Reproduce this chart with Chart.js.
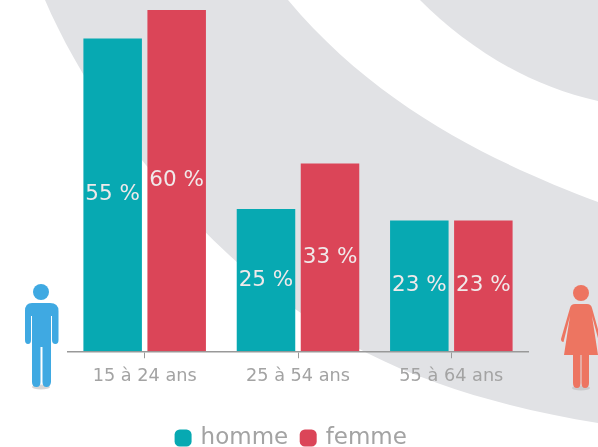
<!DOCTYPE html>
<html>
<head>
<meta charset="utf-8">
<script src="https://cdn.jsdelivr.net/npm/chart.js@4"></script>
<style>
html, body { margin: 0; padding: 0; background: #fff; overflow: hidden; }
#fond, #grafico { position: absolute; left: 0; top: 0; }
</style>
</head>
<body>
<!-- decor behind and beside the chart -->
<svg id="fond" width="598" height="447" viewBox="0 0 598 447">
    <path fill="#e1e2e5" d="M45 0 C90 105 205 270 367 353 C440 390 520 410 598 423 L598 202 C500 165 380 110 288 0 Z"/>
    <path fill="#e1e2e5" d="M420 0 C465 45 525 85 598 101 L598 0 Z"/>
    <ellipse cx="41" cy="387" rx="9" ry="2.5" fill="#bbb" opacity="0.6"/>
    <g fill="#3fa9e2">
        <circle cx="41" cy="292" r="8"/>
        <path d="M32 303 H50 Q58.500 303 58.500 311 V340 Q58.500 344 55.500 344 Q52 344 52 340 V316 H51 V382 Q50.500 387 46.500 387 Q42.500 387 42.500 382 V347 H40.500 V382 Q40.500 387 36.500 387 Q32 387 32 382 V316 H31 V340 Q31 344 28 344 Q25 344 25 340 V311 Q25 303 32 303 Z"/>
    </g>
    <ellipse cx="581" cy="388" rx="9" ry="2.5" fill="#bbb" opacity="0.6"/>
    <g fill="#ed7561">
        <circle cx="581" cy="293" r="8"/>
        <path d="M575 304 H587 Q591 304 592 308 L601 340 Q601 342 599 342 L592 316 L598 355 H589 V383 Q589 388 585 388 Q581.500 388 581.500 383 V355 H580.500 V383 Q580.500 388 577 388 Q573 388 573 383 V355 H564 L570 316 L563.500 342 Q561 342 561 339 L570 308 Q571 304 575 304 Z"/>
    </g>
</svg>
<canvas id="grafico" width="598" height="447"></canvas>
<script>
const categorias = ["15 à 24 ans", "25 à 54 ans", "55 à 64 ans"];
const hommes = [55, 25, 23];
const femmes = [60, 33, 23];
const nomHomme = "homme";
const nomFemme = "femme";

// writes "55 %" in the middle of each bar
const etiquettes = {
    id: "etiquettes",
    afterDatasetsDraw(chart) {
        const ctx = chart.ctx;
        ctx.save();
        ctx.font = "21.5px 'DejaVu Sans'";
        ctx.fillStyle = "#f0e9ea";
        ctx.textAlign = "center";
        ctx.textBaseline = "middle";
        chart.data.datasets.forEach((ds, i) => {
            chart.getDatasetMeta(i).data.forEach((barra, j) => {
                const centro = barra.getCenterPoint();
                ctx.fillText(ds.data[j] + " %", centro.x, centro.y);
            });
        });
        ctx.restore();
    }
};

// the legend sits a little left of the plot's centre
const leyendaIzquierda = {
    id: "leyendaIzquierda",
    afterLayout(chart) {
        chart.legend.left -= 6;
        chart.legend.right -= 6;
    }
};

new Chart(document.getElementById("grafico").getContext("2d"), {
    type: "bar",
    data: {
        labels: categorias,
        datasets: [
            { label: nomHomme, data: hommes, backgroundColor: "#07a9b2" },
            { label: nomFemme, data: femmes, backgroundColor: "#db4558" }
        ]
    },
    options: {
        responsive: false,
        animation: false,
        categoryPercentage: 0.835,
        barPercentage: 0.914,
        layout: { padding: { left: 68, right: 70, top: 10, bottom: -12.5 } },
        scales: {
            x: {
                grid: { offset: false, drawOnChartArea: false, color: "#999", tickLength: 7 },
                border: { color: "#999", width: 1.5 },
                ticks: { color: "#a3a3a3", font: { family: "DejaVu Sans", size: 17.7 }, padding: 8, maxRotation: 0 },
                // leaves room between the tick labels and the legend
                afterFit(scale) { scale.height += 17; }
            },
            y: { display: false, min: 0, max: 60 }
        },
        plugins: {
            tooltip: { enabled: false },
            legend: {
                position: "bottom",
                labels: {
                    color: "#a3a3a3",
                    font: { family: "DejaVu Sans", size: 23 },
                    usePointStyle: true,
                    pointStyle: "rectRounded",
                    boxHeight: 14,
                    boxWidth: 12,
                    padding: 14
                }
            }
        }
    },
    plugins: [etiquettes, leyendaIzquierda]
});
</script>
</body>
</html>
